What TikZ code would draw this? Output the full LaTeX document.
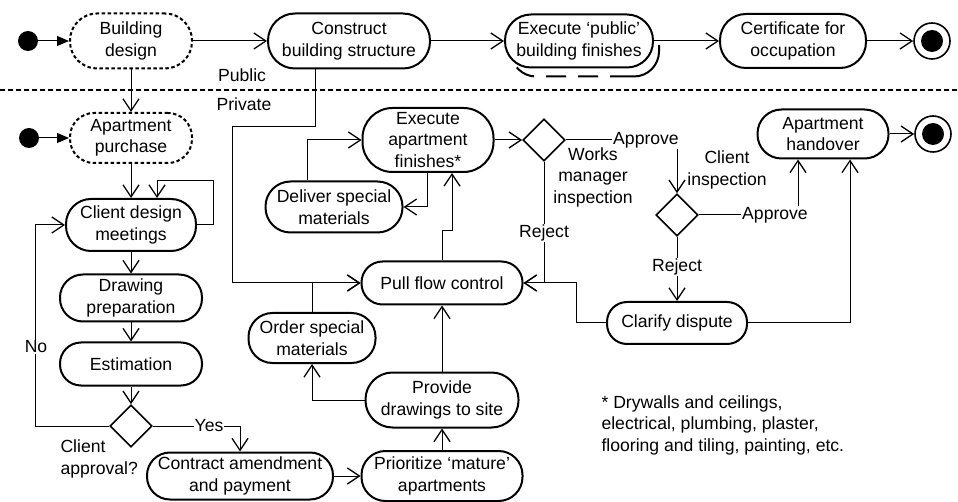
\documentclass[tikz,border=0pt]{standalone}
\usepackage{fontspec}
\setmainfont{Liberation Sans}
\usetikzlibrary{arrows.meta,shapes.geometric,calc}
\begin{document}
\begin{tikzpicture}[x=1pt,y=-1pt,
  font=\fontsize{17.6}{21.5}\selectfont,
  act/.style={draw, line width=2pt, rounded corners=20pt, align=center, inner sep=0pt, fill=white},
  dashact/.style={act, dash pattern=on 3.5pt off 2.5pt},
  dec/.style={draw, line width=1.6pt, diamond, minimum width=42pt, minimum height=42pt, inner sep=0pt, fill=white},
  arr/.style={line width=1pt, -{Straight Barb[length=12pt,width=16pt,line width=1.3pt]}},
  farr/.style={line width=1pt, -{Triangle[length=12pt,width=10pt]}},
  lbl/.style={fill=white, inner sep=1pt},
  initn/.style={circle, fill=black, minimum size=20pt, inner sep=0pt},
  finn/.style={circle, draw, line width=1.6pt, minimum size=36pt, inner sep=0pt, fill=white},
]
\useasboundingbox (0,0) rectangle (958,502);

% dashed shadow behind the public finishes activity
\draw[line width=2pt, rounded corners=25pt] (659,45) -- (659,76.5) -- (630,76.5);
\draw[line width=2pt, dash pattern=on 20pt off 12pt, rounded corners=25pt] (630,76.5) -- (511,76.5) -- (511,45);

% top row
\node[initn] (init1) at (28,41) {};
\node[dashact, minimum width=122pt, minimum height=55pt, rounded corners=27pt] (bd) at (131,41) {Building\\design};
\node[act, minimum width=162pt, minimum height=55pt, rounded corners=27pt] (cbs) at (349,41) {Construct\\building structure};
\node[act, minimum width=148pt, minimum height=53pt, rounded corners=26pt] (epb) at (579,41) {Execute ‘public’\\building finishes};
\node[act, minimum width=146pt, minimum height=54pt, rounded corners=26pt] (cert) at (793,41) {Certificate for\\occupation};
\node[finn] (fin1) at (932,41) {};
\fill (fin1.center) circle (11pt);

% separator
\draw[line width=1.3pt, dash pattern=on 5pt off 3pt] (0,90) -- (958,90);
\node (pub) at (242,75) {Public};
\node (priv) at (244,104) {Private};

% private part
\node[initn] (init2) at (29,138) {};
\node[dashact, minimum width=122pt, minimum height=50pt, rounded corners=24pt] (ap) at (131,138) {Apartment\\purchase};
\node[act, minimum width=130pt, minimum height=52pt, rounded corners=25pt] (cdm) at (131,225) {Client design\\meetings};
\node[act, minimum width=142pt, minimum height=47pt, rounded corners=23pt] (dp) at (131,298) {Drawing\\preparation};
\node[act, minimum width=142pt, minimum height=43pt, rounded corners=21pt] (est) at (131,364) {Estimation};
\node[dec] (dca) at (131,426) {};
\node[act, minimum width=186pt, minimum height=47pt, rounded corners=23pt] (cam) at (240,476) {Contract amendment\\and payment};
\node[act, minimum width=161pt, minimum height=50pt, rounded corners=24pt] (pma) at (442,476) {Prioritize ‘mature’\\apartments};
\node[act, minimum width=153pt, minimum height=55pt, rounded corners=27pt] (pds) at (442,400) {Provide\\drawings to site};
\node[act, minimum width=127pt, minimum height=50pt, rounded corners=24pt] (osm) at (312,338) {Order special\\materials};
\node[act, minimum width=161pt, minimum height=43pt, rounded corners=21pt] (pfc) at (442,283) {Pull flow control};
\node[act, minimum width=131pt, minimum height=64pt, rounded corners=30pt] (eaf) at (428,140) {Execute\\apartment\\finishes*};
\node[act, minimum width=137pt, minimum height=51pt, rounded corners=25pt] (dsm) at (334,207) {Deliver special\\materials};
\node[dec] (dwm) at (544,140) {};
\node[dec] (dci) at (677,215) {};
\node[act, minimum width=140pt, minimum height=42pt, rounded corners=20pt] (cd) at (677,323) {Clarify dispute};
\node[act, minimum width=131pt, minimum height=49pt, rounded corners=24pt] (ah) at (823,134) {Apartment\\handover};
\node[finn] (fin2) at (933,134) {};
\fill (fin2.center) circle (11pt);
\coordinate (c1) at (232,127);

% connectors
\draw[farr] (init1) -- (bd);
\draw[arr] (bd) -- (cbs);
\draw[arr] (cbs) -- (epb);
\draw[arr] (epb) -- (cert);
\draw[arr] (cert) -- (fin1);
\draw[arr] (bd) -- (ap);
\draw[farr] (init2) -- (ap);
\draw[arr] (ap) -- (cdm);
\draw[arr] (cdm.east) -- ++(16,0) -- ++(0,-44) -| ([xshift=26pt]cdm.north);
\draw[arr] (cdm) -- (dp);
\draw[arr] (dp) -- (est);
\draw[arr] (est) -- (dca);
\draw[arr] (dca.west) -- ++(-74,0) |- (cdm.west);
\draw[arr] (dca.east) -| (cam.north);
\draw[arr] (cam) -- (pma);
\draw[arr] (pma) -- (pds);
\draw[arr] (pds.west) -| (osm.south);
\draw[arr] (pds) -- (pfc);
\draw[arr] (osm.north) |- (pfc.west);
\draw[arr] ([xshift=-34pt]cbs.south) |- (c1) |- (pfc.west);
\draw[arr] (pfc.north) -- ++(0,-30) -| ([xshift=24pt]eaf.south);
\draw[arr] ([xshift=-1pt]eaf.south) |- (dsm.east);
\draw[arr] ([xshift=-27pt]dsm.north) |- (eaf.west);
\draw[arr] (eaf) -- (dwm);
\draw[arr] (dwm.east) -| (dci.north);
\draw[arr] (dwm.south) |- (pfc.east);
\draw[arr] (cd.west) -- ++(-30,0) |- (pfc.east);
\draw[arr] (dci.east) -| ([xshift=-25pt]ah.south);
\draw[arr] (dci) -- (cd);
\draw[arr] (cd.east) -| ([xshift=27pt]ah.south);
\draw[arr] (ah) -- (fin2);

% labels
\node[lbl] (lno) at (36,347) {No};
\node[lbl] (lyes) at (209,426) {Yes};
\node[anchor=west, align=left] (lca) at (57,459) {Client\\approval?};
\node[lbl] (lap1) at (646,140) {Approve};
\node[align=center] (lwm) at (593,177) {Works\\manager\\inspection};
\node[lbl] (lrej1) at (544,233) {Reject};
\node[align=center] (lci) at (727,170) {Client\\inspection};
\node[lbl] (lap2) at (775,215) {Approve};
\node[lbl] (lrej2) at (677,267) {Reject};
\node[anchor=west, align=left] (fn) at (598,425) {* Drywalls and ceilings,\\electrical, plumbing, plaster,\\flooring and tiling, painting, etc.};
\end{tikzpicture}
\end{document}
